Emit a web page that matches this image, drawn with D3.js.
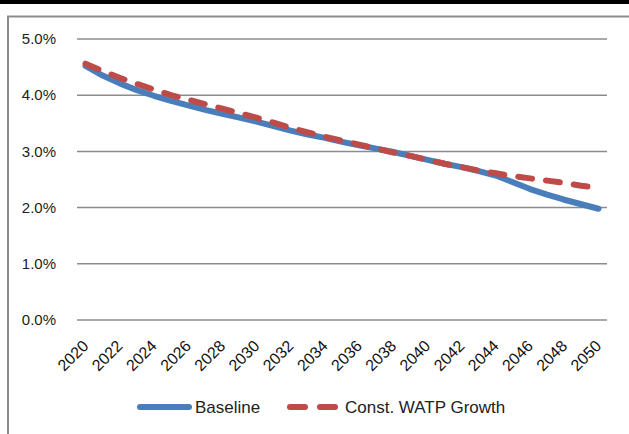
<!DOCTYPE html>
<html><head><meta charset="utf-8">
<script src="https://cdn.jsdelivr.net/npm/d3@7"></script>
<style>body{margin:0;background:#fff}svg{display:block}</style>
</head><body>
<script>
const years = d3.range(2020, 2051);
const baseline = [4.52,4.35,4.21,4.09,3.99,3.90,3.82,3.74,3.67,3.60,3.53,3.45,3.37,3.30,3.24,3.17,3.11,3.05,2.99,2.92,2.85,2.78,2.72,2.65,2.57,2.45,2.33,2.23,2.14,2.06,1.98];
const constWatp = [4.56,4.43,4.31,4.20,4.10,4.00,3.92,3.84,3.76,3.68,3.60,3.51,3.42,3.34,3.26,3.19,3.12,3.05,2.98,2.92,2.85,2.78,2.72,2.66,2.61,2.56,2.52,2.48,2.44,2.39,2.35];
const yTicks = [0,1,2,3,4,5];
const xTickLabels = years.filter((y,i)=>i%2===0);
const seriesNames = ["Baseline","Const. WATP Growth"];

const W=629,H=434;
const svg=d3.select("body").append("svg").attr("width",W).attr("height",H);
const font="Liberation Sans, Arial, sans-serif";
svg.append("rect").attr("x",0).attr("y",0).attr("width",W).attr("height",4).attr("fill","#000");
svg.append("path").attr("d",`M8,${H} V16.5 H${W}`).attr("fill","none").attr("stroke","#8c8c8c").attr("stroke-width",2);

const L=77,R=607,T=39,B=320;
const x=d3.scaleBand().domain(years).range([L,R]);
const y=d3.scaleLinear().domain([0,5]).range([B,T]);
const xc=d=>x(d)+x.bandwidth()/2;

const g=svg.append("g");
yTicks.forEach(t=>{
  g.append("line").attr("x1",L).attr("x2",R).attr("y1",y(t)).attr("y2",y(t)).attr("stroke","#8c8c8c").attr("stroke-width",1.5);
  g.append("text").attr("x",56).attr("y",y(t)).attr("dy","0.35em").attr("text-anchor","end")
   .attr("font-family",font).attr("font-size",15).attr("fill","#222").text(t.toFixed(1)+"%");
});
xTickLabels.forEach(yr=>{
  const px=xc(yr)-4, py=B+19;
  g.append("text").attr("transform",`translate(${px},${py}) rotate(-45)`).attr("text-anchor","end")
   .attr("dy","0.7em").attr("font-family",font).attr("font-size",16).attr("fill","#111").text(yr);
});

const line=d3.line().x((d,i)=>xc(years[i])).y(d=>y(d));
g.append("path").datum(baseline).attr("d",line).attr("fill","none").attr("stroke","#4a7ebb")
 .attr("stroke-width",6).attr("stroke-linecap","round").attr("stroke-linejoin","round");
g.append("path").datum(constWatp).attr("d",line).attr("fill","none").attr("stroke","#be4b48")
 .attr("stroke-width",6).attr("stroke-linecap","round").attr("stroke-linejoin","round")
 .attr("stroke-dasharray","14,14");

// legend
const ly=407;
g.append("line").attr("x1",140).attr("x2",189).attr("y1",ly).attr("y2",ly).attr("stroke","#4a7ebb").attr("stroke-width",6).attr("stroke-linecap","round");
g.append("text").attr("x",195).attr("y",ly).attr("dy","0.35em").attr("font-family",font).attr("font-size",17).attr("fill","#222").text(seriesNames[0]);
g.append("line").attr("x1",290).attr("x2",335).attr("y1",ly).attr("y2",ly).attr("stroke","#be4b48").attr("stroke-width",6).attr("stroke-linecap","round").attr("stroke-dasharray","15,15");
g.append("text").attr("x",345).attr("y",ly).attr("dy","0.35em").attr("font-family",font).attr("font-size",17).attr("fill","#222").text(seriesNames[1]);
</script>
</body></html>
